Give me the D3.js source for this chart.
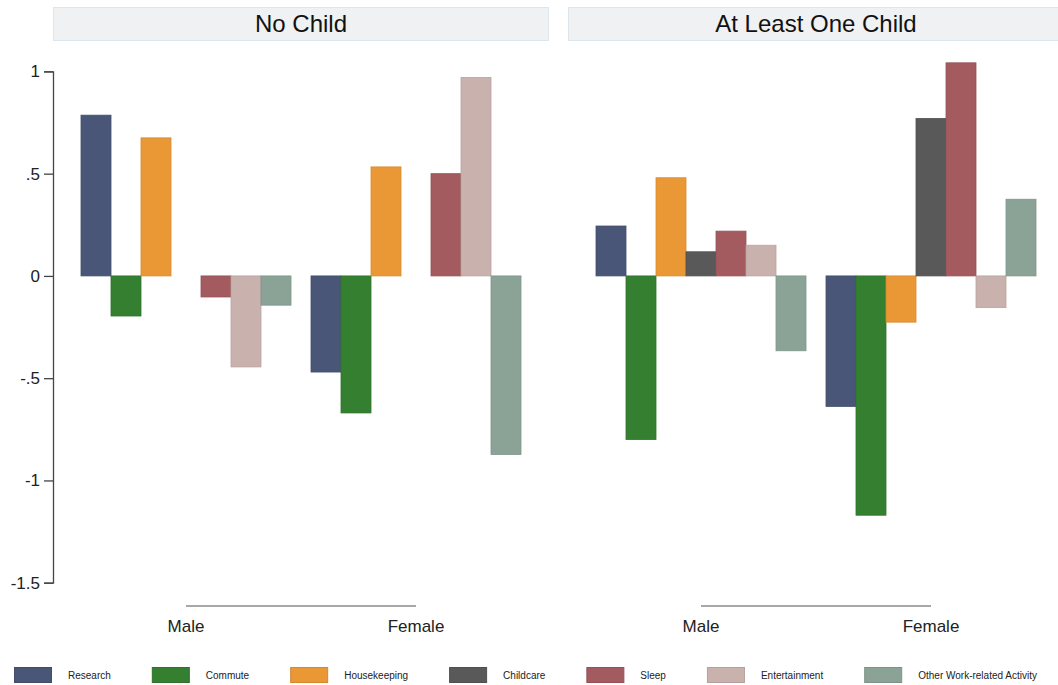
<!DOCTYPE html>
<html>
<head>
<meta charset="utf-8">
<script src="https://cdn.jsdelivr.net/npm/d3@7/dist/d3.min.js"></script>
<style>
  html, body { margin: 0; padding: 0; background: #fff; }
  svg { display: block; font-family: "Liberation Sans", Arial, sans-serif; }
</style>
</head>
<body>
<svg id="chart" width="1058" height="685"></svg>
<script>
// Activity categories (one bar each) and their fill colours
const categories = ["Research", "Commute", "Housekeeping", "Childcare", "Sleep", "Entertainment", "Other Work-related Activity"];
const categoryColors = ["#4a5677", "#357f30", "#e99835", "#595959", "#a35b60", "#c9b2ae", "#8ba397"];

// Facets and groups
const panels = ["No Child", "At Least One Child"];
const genders = ["Male", "Female"];

// Values per facet and gender, in category order (null = no bar)
const noChildMale      = [0.786, -0.196, 0.675, null, -0.103, -0.445, -0.143];
const noChildFemale    = [-0.470, -0.670, 0.533, null, 0.500, 0.970, -0.873];
const withChildMale    = [0.244, -0.800, 0.480, 0.118, 0.219, 0.150, -0.366];
const withChildFemale  = [-0.638, -1.170, -0.226, 0.770, 1.042, -0.155, 0.375];

// Y axis ticks
const yTicks = [1, 0.5, 0, -0.5, -1, -1.5];
const yTickLabels = ["1", ".5", "0", "-.5", "-1", "-1.5"];

const panelValues = [
  [noChildMale, noChildFemale],
  [withChildMale, withChildFemale]
];

const svg = d3.select("#chart");

const y = d3.scaleLinear().domain([-1.5, 1]).range([582.7, 71.4]);
const color = d3.scaleOrdinal().domain(categories).range(categoryColors);

// Panel horizontal extents (second panel runs past the right edge)
const panelX = d3.scaleBand().domain(panels).range([53, 1064]).paddingInner(19 / 515).paddingOuter(0);

panels.forEach((panel, pi) => {
  const x0 = panelX(panel);
  const w = panelX.bandwidth();
  const g = svg.append("g");

  // Strip header
  g.append("rect")
    .attr("x", x0 + 0.5).attr("y", 7.5)
    .attr("width", w - 1).attr("height", 33)
    .attr("fill", "#eff1f2").attr("stroke", "#dde6ec").attr("stroke-width", 1);
  g.append("text")
    .attr("x", x0 + w / 2).attr("y", 32)
    .attr("text-anchor", "middle")
    .attr("font-size", 24).attr("fill", "#111")
    .text(panel);

  const xGroup = d3.scaleBand().domain(genders)
    .range([x0, x0 + w]).paddingInner(20 / 230).paddingOuter(28 / 230);
  const xBar = d3.scaleBand().domain(categories).range([0, xGroup.bandwidth()]).padding(0);

  genders.forEach((gender, gi) => {
    const vals = panelValues[pi][gi];
    const rows = categories.map((c, i) => ({ c, v: vals[i] })).filter(d => d.v !== null);
    g.append("g")
      .attr("transform", `translate(${xGroup(gender)},0)`)
      .selectAll("rect")
      .data(rows)
      .join("rect")
      .attr("x", d => xBar(d.c))
      .attr("y", d => y(Math.max(0, d.v)))
      .attr("width", xBar.bandwidth())
      .attr("height", d => Math.abs(y(d.v) - y(0)))
      .attr("fill", d => color(d.c))
      .attr("stroke", d => d3.color(color(d.c)).darker(0.25))
      .attr("stroke-width", 0.8);
  });

  // Group axis: line between group centres and group labels
  const cx = gdr => xGroup(gdr) + xGroup.bandwidth() / 2;
  g.append("line")
    .attr("x1", cx("Male")).attr("x2", cx("Female"))
    .attr("y1", 606).attr("y2", 606)
    .attr("stroke", "#8a8a8a").attr("stroke-width", 1.5);
  g.selectAll("text.grp")
    .data(genders)
    .join("text")
    .attr("class", "grp")
    .attr("x", d => cx(d)).attr("y", 632)
    .attr("text-anchor", "middle")
    .attr("font-size", 17).attr("fill", "#222")
    .text(d => d);

  // Y axis only on the first panel
  if (pi === 0) {
    const axis = d3.axisLeft(y)
      .tickValues(yTicks)
      .tickFormat((d, i) => yTickLabels[i])
      .tickSize(9).tickPadding(4);
    const ax = g.append("g").attr("transform", `translate(${x0},0)`).call(axis);
    ax.select(".domain").attr("stroke", "#444").attr("stroke-width", 1.3);
    ax.selectAll(".tick line").attr("stroke", "#444").attr("stroke-width", 1.3);
    ax.selectAll(".tick text").attr("font-size", 17).attr("fill", "#222")
      .attr("font-family", "Liberation Sans, Arial, sans-serif");
  }
});

// Legend: swatch + label, laid out left to right
const legend = svg.append("g");
let lx = 14;
categories.forEach(c => {
  const item = legend.append("g");
  item.append("rect")
    .attr("x", lx + 0.5).attr("y", 667.5)
    .attr("width", 37).attr("height", 15)
    .attr("fill", color(c))
    .attr("stroke", d3.color(color(c)).darker(0.3)).attr("stroke-width", 1);
  const t = item.append("text")
    .attr("x", lx + 54).attr("y", 679)
    .attr("font-size", 10).attr("fill", "#222")
    .text(c);
  lx = lx + 54 + t.node().getComputedTextLength() + 41;
});
</script>
</body>
</html>
